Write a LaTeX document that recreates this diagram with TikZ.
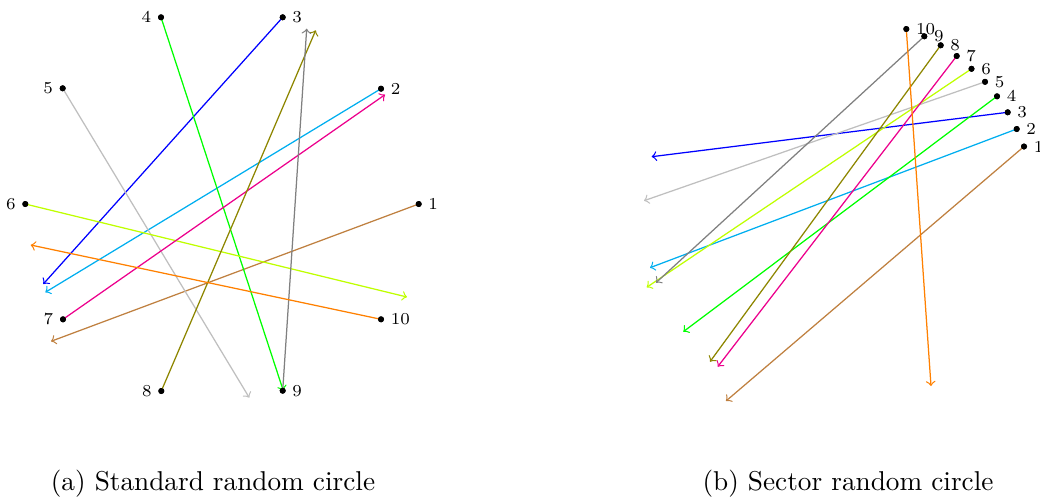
\documentclass[tikz,border=0pt]{standalone}
\usepackage{xcolor}
\definecolor{cmykcyan}{HTML}{00AEEF}
\definecolor{cmykmagenta}{HTML}{EC008C}
\begin{document}
\begin{tikzpicture}[x=0.4pt,y=-0.4pt,
  dot/.style={circle,fill=black,inner sep=0pt,minimum size=2.4pt},
  lbl/.style={font=\fontsize{6.7}{7}\selectfont,inner sep=2pt},
  conn/.style={->,line width=0.5pt},
  captext/.style={font=\fontsize{10.9}{13}\selectfont,inner sep=0pt}]
\useasboundingbox (0,0) rectangle (1040,502);
% ---------- (a) standard random circle ----------
\node[dot,label={[lbl,label distance=0.3pt]right:1}] (a1) at (418.7,204) {};
\node[dot,label={[lbl,label distance=0.3pt]right:2}] (a2) at (381,88.7) {};
\node[dot,label={[lbl,label distance=0.3pt]right:3}] (a3) at (282.7,17.3) {};
\node[dot,label={[lbl,label distance=0.3pt]left:4}] (a4) at (161,17.3) {};
\node[dot,label={[lbl,label distance=0.3pt]left:5}] (a5) at (62.7,88.3) {};
\node[dot,label={[lbl,label distance=0.3pt]left:6}] (a6) at (25.3,204) {};
\node[dot,label={[lbl,label distance=0.3pt]left:7}] (a7) at (63,319.3) {};
\node[dot,label={[lbl,label distance=0.3pt]left:8}] (a8) at (161.3,391) {};
\node[dot,label={[lbl,label distance=0.3pt]right:9}] (a9) at (282.7,390.7) {};
\node[dot,label={[lbl,label distance=0.3pt]right:10}] (a10) at (381,319.3) {};
\coordinate (ae1) at (51,341.3);
\coordinate (ae2) at (45.3,292.3);
\coordinate (ae3) at (43.3,284);
\coordinate (ae4) at (283.3,390.7);
\coordinate (ae5) at (249.3,397.7);
\coordinate (ae6) at (407,297);
\coordinate (ae7) at (385,94.7);
\coordinate (ae8) at (315.7,30.3);
\coordinate (ae9) at (306.7,28.7);
\coordinate (ae10) at (30.7,245);
\draw[conn,brown] (a1.center) -- (ae1);
\draw[conn,cmykcyan] (a2.center) -- (ae2);
\draw[conn,blue] (a3.center) -- (ae3);
\draw[conn,green] (a4.center) -- (ae4);
\draw[conn,lightgray] (a5.center) -- (ae5);
\draw[conn,lime] (a6.center) -- (ae6);
\draw[conn,cmykmagenta] (a7.center) -- (ae7);
\draw[conn,olive] (a8.center) -- (ae8);
\draw[conn,gray] (a9.center) -- (ae9);
\draw[conn,orange] (a10.center) -- (ae10);
\foreach \i in {1,...,10} {\fill (a\i) circle (1.2pt);}
% ---------- (b) sector random circle ----------
\node[dot,label={[lbl,label distance=0.3pt]right:1}] (b1) at (1024,146.5) {};
\node[dot,label={[lbl,label distance=0.3pt]right:2}] (b2) at (1016.7,129) {};
\node[dot,label={[lbl,label distance=0.3pt]right:3}] (b3) at (1007.7,112.3) {};
\node[dot,label={[lbl,label distance=0.3pt]right:4}] (b4) at (997,96.3) {};
\node[dot,label={[lbl,label distance=0.3pt]right:5}] (b5) at (985,81.8) {};
\node[dot,label={[lbl,label distance=0.3pt]right:6}] (b6) at (971.5,68.8) {};
\node[dot,label={[lbl,label distance=0.3pt]right:7}] (b7) at (956.7,56) {};
\node[dot,label={[lbl,label distance=0.3pt]right:8}] (b8) at (940.7,45.3) {};
\node[dot,label={[lbl,label distance=0.3pt]right:9}] (b9) at (924.3,36.3) {};
\node[dot,label={[lbl,label distance=0.3pt]right:10}] (b10) at (906.3,29) {};
\coordinate (be1) at (726,401);
\coordinate (be2) at (650,267.7);
\coordinate (be3) at (651.7,156.7);
\coordinate (be4) at (683.3,331.7);
\coordinate (be5) at (644,200.7);
\coordinate (be6) at (646.7,287.3);
\coordinate (be7) at (717.7,366.7);
\coordinate (be8) at (710,361.7);
\coordinate (be9) at (656,282.7);
\coordinate (be10) at (931,386);
\draw[conn,brown] (b1.center) -- (be1);
\draw[conn,cmykcyan] (b2.center) -- (be2);
\draw[conn,blue] (b3.center) -- (be3);
\draw[conn,green] (b4.center) -- (be4);
\draw[conn,lightgray] (b5.center) -- (be5);
\draw[conn,lime] (b6.center) -- (be6);
\draw[conn,cmykmagenta] (b7.center) -- (be7);
\draw[conn,olive] (b8.center) -- (be8);
\draw[conn,gray] (b9.center) -- (be9);
\draw[conn,orange] (b10.center) -- (be10);
\foreach \i in {1,...,10} {\fill (b\i) circle (1.2pt);}
% ---------- captions ----------
\node[captext] (capa) at (213,484) {(a) Standard random circle};
\node[captext] (capb) at (848,484) {(b) Sector random circle};
\end{tikzpicture}
\end{document}
